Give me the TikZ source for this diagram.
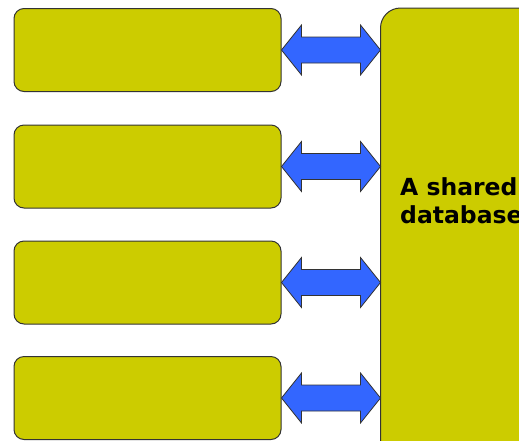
\documentclass[tikz,border=0pt]{standalone}
\usepackage{fontspec}
\setmainfont{DejaVu Sans}
\usetikzlibrary{calc}
\definecolor{boxfill}{HTML}{CCCC00}
\definecolor{arrowfill}{HTML}{3366FF}
\definecolor{edge}{HTML}{333333}
\tikzset{
  client/.style={draw=edge, line width=1pt, fill=boxfill, rounded corners=10pt,
    minimum width=267pt, minimum height=83pt, inner sep=0pt},
  store/.style={draw=edge, line width=1pt, fill=boxfill, rounded corners=20pt},
  link/.style={draw=edge, line width=0.8pt, fill=arrowfill, line join=miter},
  caption/.style={anchor=base west, inner sep=0pt, font=\bfseries\fontsize{23.5}{28}\selectfont},
}
\begin{document}
\begin{tikzpicture}[x=1pt, y=-1pt]
  \useasboundingbox (0,0) rectangle (519,440);
  \clip (0,0) rectangle (519,440);
  % shared store on the right, running past the frame
  \draw[store] (380.5,8) rectangle (560,470);
  \coordinate (db) at (380.5,8);
  \node[caption] (dbl1) at (400,195) {A shared};
  \node[caption] (dbl2) at (400,223.5) {database};
  % four client boxes
  \node[client] (c1) at (147.5,50) {};
  \node[client] (c2) at (147.5,166.5) {};
  \node[client] (c3) at (147.5,282.5) {};
  \node[client] (c4) at (147.5,398) {};
  % double-headed block arrows between each client and the store
  \foreach \c in {c1,c2,c3,c4}{
    \draw[link] (\c.east) -- ++(20,-25) -- ++(0,12) -- ($(db |- \c.east)+(-20,-13)$)
      -- ++(0,-12) -- (db |- \c.east) -- ++(-20,25) -- ++(0,-12)
      -- ($(\c.east)+(20,13)$) -- ++(0,12) -- cycle;
  }
\end{tikzpicture}
\end{document}
